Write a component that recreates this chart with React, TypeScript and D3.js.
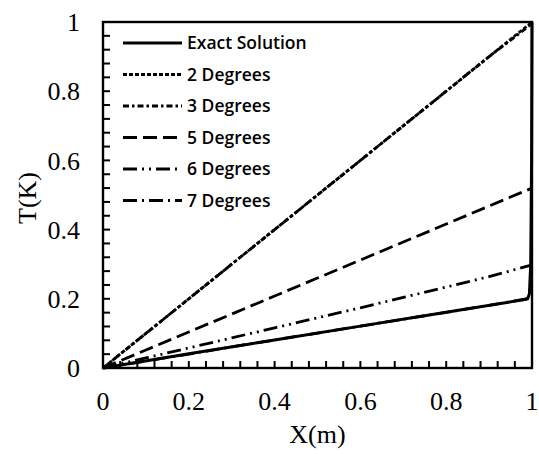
import React from "react";
import * as d3 from "d3";

// Temperature profiles along the rod
const xGrid = [0, 0.1, 0.2, 0.3, 0.4, 0.5, 0.6, 0.7, 0.8, 0.9, 1.0];
const exactX = [0, 0.2, 0.4, 0.6, 0.8, 0.98, 0.99, 0.994, 0.997, 0.999, 1.0];
const exactT = [0, 0.041, 0.081, 0.121, 0.161, 0.197, 0.2, 0.215, 0.3, 0.6, 1.0];
const deg2T = [0, 0.1, 0.2, 0.3, 0.4, 0.5, 0.6, 0.7, 0.8, 0.9, 1.0];
const deg3T = [0, 0.1, 0.2, 0.3, 0.4, 0.5, 0.6, 0.7, 0.8, 0.9, 0.995];
const deg5T = [0, 0.052, 0.104, 0.156, 0.208, 0.26, 0.312, 0.364, 0.416, 0.468, 0.52];
const deg6T = [0, 0.029, 0.058, 0.087, 0.116, 0.145, 0.174, 0.204, 0.234, 0.264, 0.298];
const deg7T = [0, 0.02, 0.04, 0.061, 0.081, 0.101, 0.121, 0.141, 0.161, 0.181, 0.203];

const seriesNames = ["Exact Solution", "2 Degrees", "3 Degrees", "5 Degrees", "6 Degrees", "7 Degrees"];
const dashes = ["", "4,2", "6,3,2.5,3", "14,6", "14,5,2,5,2,5", "14,5,2,5"];

const xTickLabels = ["0", "0.2", "0.4", "0.6", "0.8", "1"];
const yTickLabels = ["0", "0.2", "0.4", "0.6", "0.8", "1"];

export default function App() {
  const W = 539, H = 454;
  const m = { left: 103, right: 532, top: 22, bottom: 368 };
  const x = d3.scaleLinear().domain([0, 1]).range([m.left, m.right]);
  const y = d3.scaleLinear().domain([0, 1]).range([m.bottom, m.top]);

  const line = d3.line<[number, number]>().x(d => x(d[0])).y(d => y(d[1]));

  const series: [number, number][][] = [
    exactX.map((v, i) => [v, exactT[i]]),
    xGrid.map((v, i) => [v, deg2T[i]]),
    xGrid.map((v, i) => [v, deg3T[i]]),
    xGrid.map((v, i) => [v, deg5T[i]]),
    xGrid.map((v, i) => [v, deg6T[i]]),
    xGrid.map((v, i) => [v, deg7T[i]]),
  ];

  const minor = d3.range(0, 1.0001, 0.04);
  const serif = "'Liberation Serif', 'Times New Roman', serif";
  const sans = "'Open Sans', 'Liberation Sans', sans-serif";

  return (
    <svg width={W} height={H} style={{ position: "absolute", left: 0, top: 0, background: "#fff" }}>
      <rect x={0} y={0} width={W} height={H} fill="#fff" />
      {/* inward ticks */}
      {minor.map((t, i) => (
        <line key={"xt" + i} x1={x(t)} x2={x(t)} y1={m.bottom} y2={m.bottom - 7} stroke="#000" strokeWidth={2} />
      ))}
      {minor.map((t, i) => (
        <line key={"yt" + i} x1={m.left} x2={m.left + 7} y1={y(t)} y2={y(t)} stroke="#000" strokeWidth={2} />
      ))}
      {/* curves */}
      {series.slice().reverse().map((s, ri) => {
        const i = series.length - 1 - ri;
        return (
          <path key={"s" + i} d={line(s) || ""} fill="none" stroke="#000" strokeWidth={i === 0 ? 3 : 2.8}
            strokeDasharray={dashes[i] || undefined} strokeLinejoin="round" />
        );
      })}
      <rect x={m.left} y={m.top} width={m.right - m.left} height={m.bottom - m.top} fill="none" stroke="#000" strokeWidth={2.4} />
      {/* tick labels */}
      {xTickLabels.map((lab, i) => (
        <text key={"xl" + i} x={x(+lab)} y={410} textAnchor="middle" fontFamily={serif} fontSize={26}>{lab}</text>
      ))}
      {yTickLabels.map((lab, i) => (
        <text key={"yl" + i} x={80} y={y(+lab)} dy="0.35em" textAnchor="end" fontFamily={serif} fontSize={26}>{lab}</text>
      ))}
      <text x={(m.left + m.right) / 2} y={443} textAnchor="middle" fontFamily={serif} fontSize={26}>X(m)</text>
      <text transform={`translate(36,${(m.top + m.bottom) / 2 + 3}) rotate(-90)`} textAnchor="middle" fontFamily={serif} fontSize={26}>T(K)</text>
      {/* legend */}
      {seriesNames.map((name, i) => {
        const ly = 43 + i * 31.5;
        return (
          <g key={"lg" + i}>
            <line x1={123} x2={182} y1={ly} y2={ly} stroke="#000" strokeWidth={3} strokeDasharray={dashes[i] || undefined} />
            <text x={187} y={ly} dy="0.36em" fontFamily={sans} fontSize={17.5} fontWeight={600}>{name}</text>
          </g>
        );
      })}
    </svg>
  );
}
